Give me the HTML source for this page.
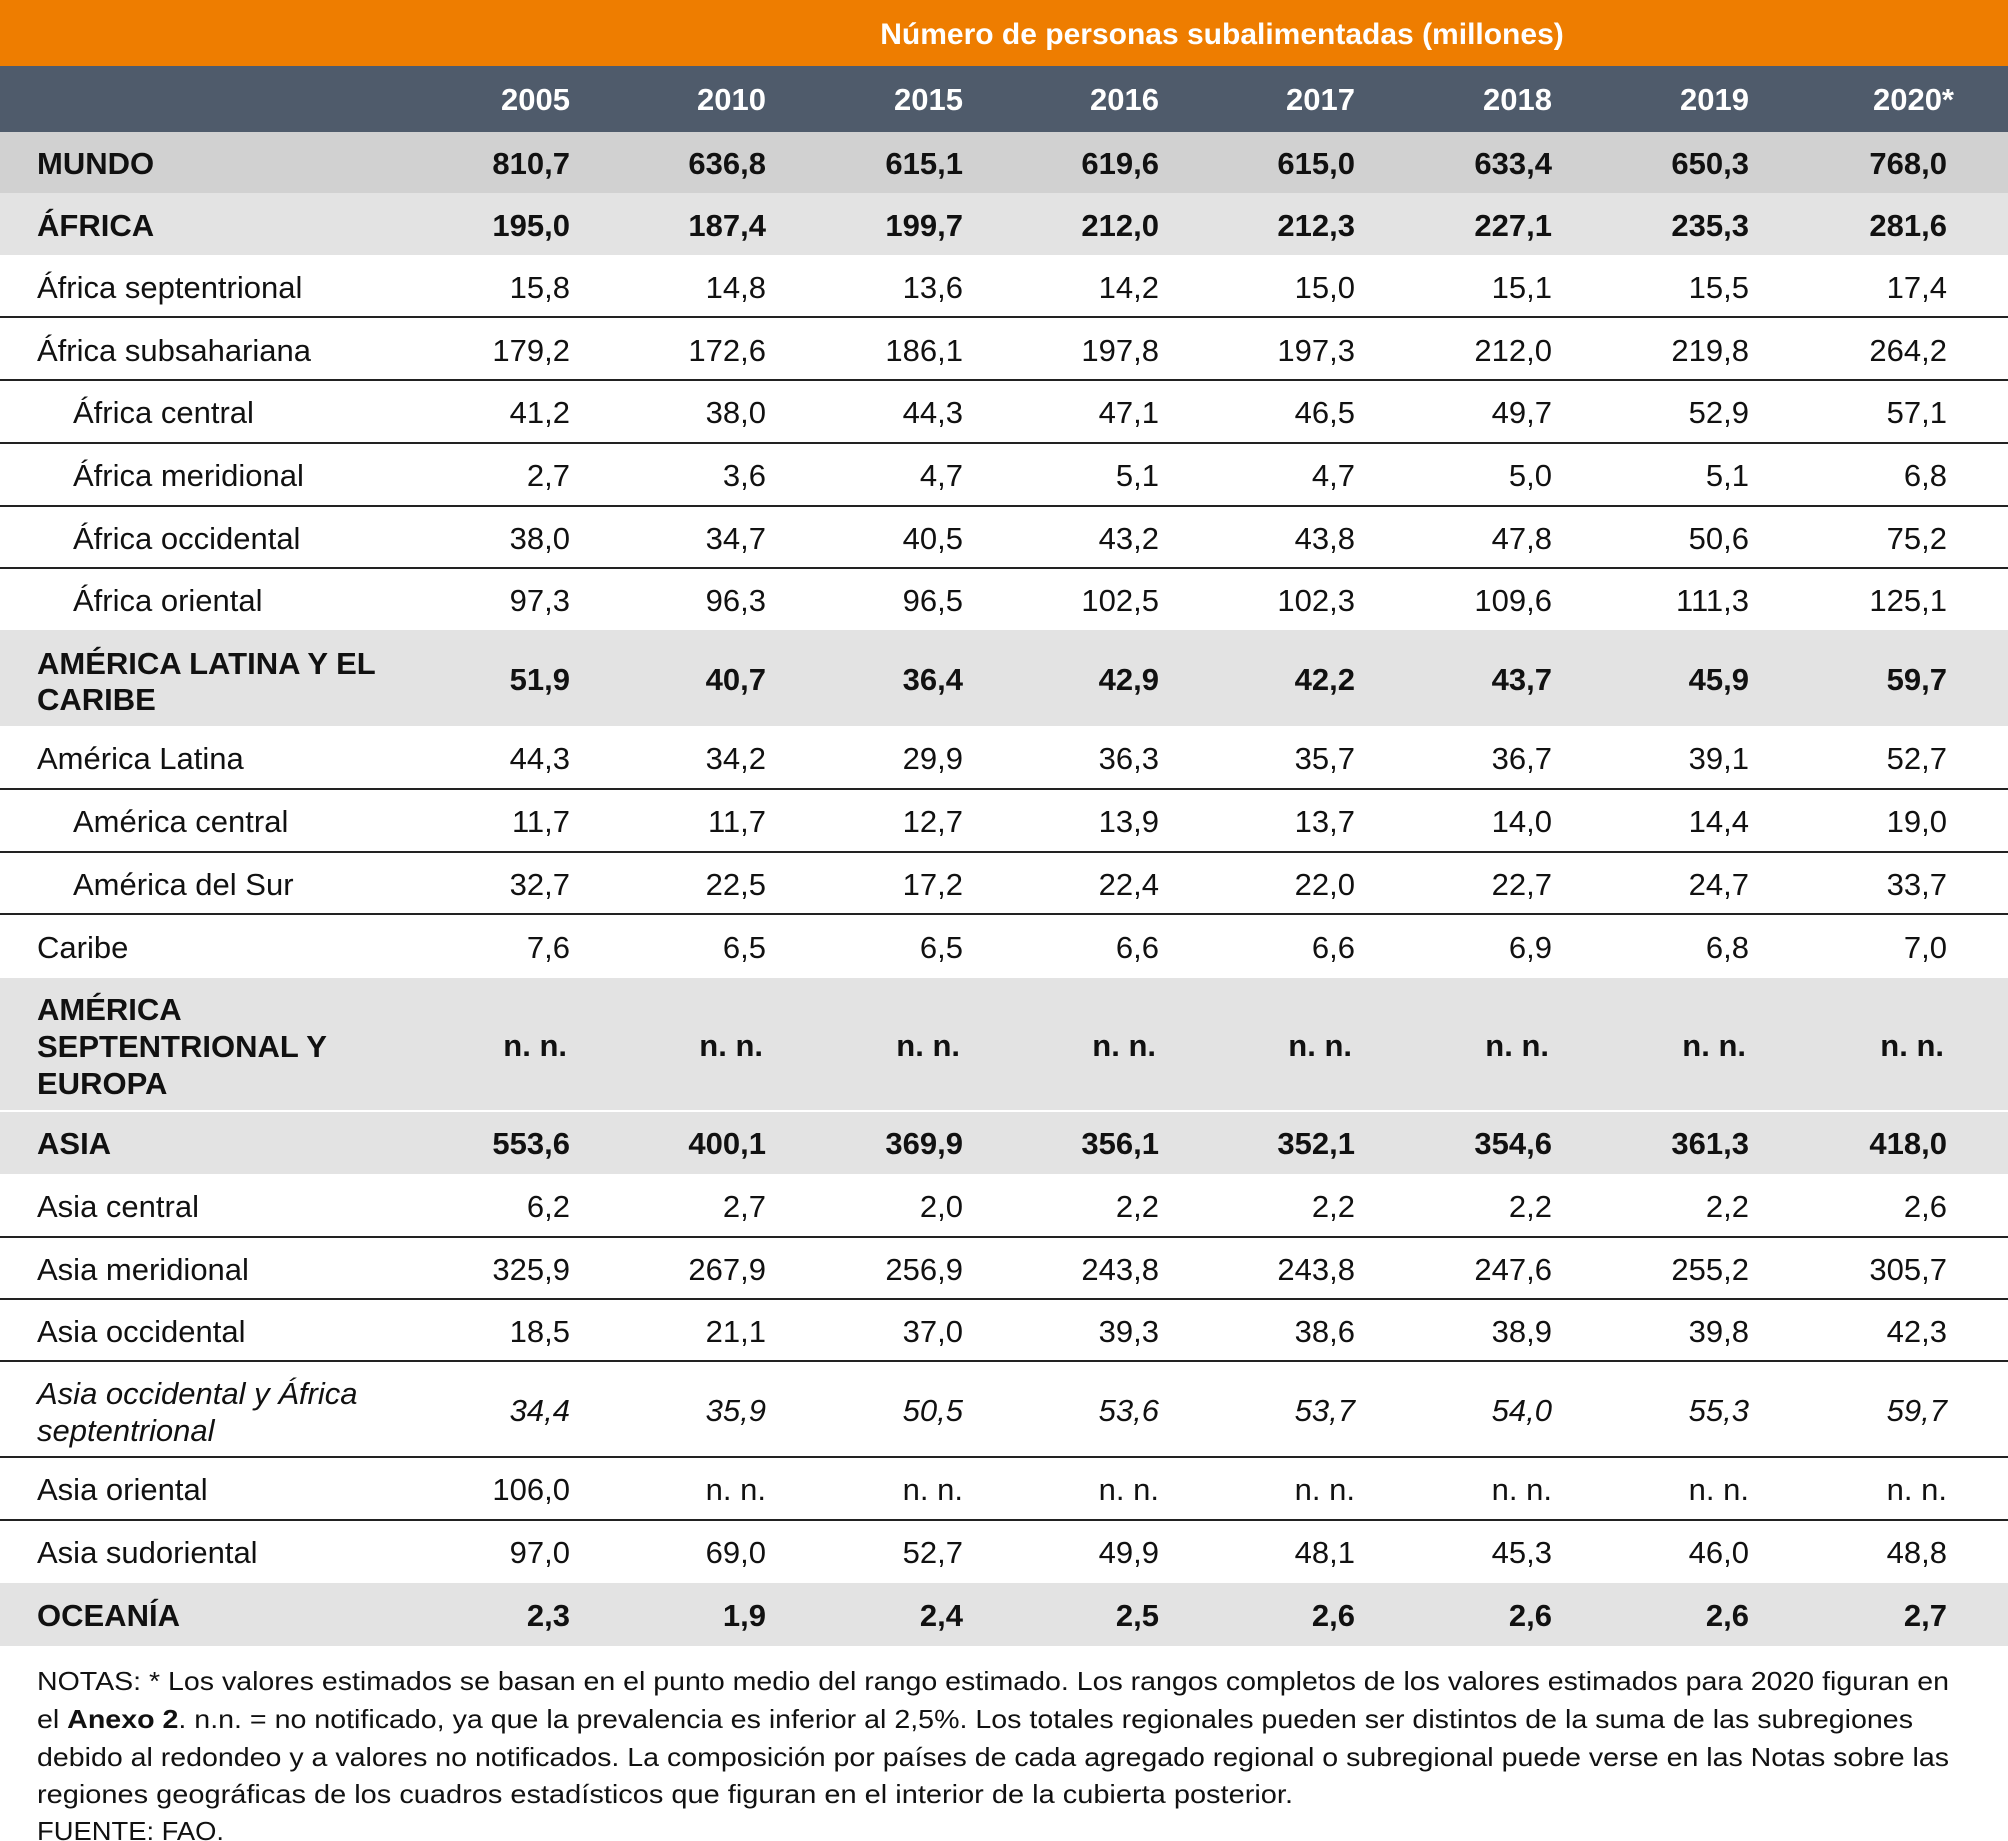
<!DOCTYPE html>
<html><head><meta charset="utf-8"><style>html,body{margin:0;padding:0;background:#fff}svg{display:block}</style></head><body>
<svg width="2008" height="1841" viewBox="0 0 2008 1841" xmlns="http://www.w3.org/2000/svg" font-family="'Liberation Sans Narrow','Liberation Sans',sans-serif" font-size="31">
<rect x="0" y="0" width="2008" height="66" fill="#EE7D00"/>
<rect x="0" y="66" width="2008" height="66" fill="#4F5B6B"/>
<rect x="0" y="132" width="2008" height="61" fill="#D1D1D1"/>
<rect x="0" y="193" width="2008" height="62" fill="#E3E3E3"/>
<rect x="0" y="630" width="2008" height="96" fill="#E3E3E3"/>
<rect x="0" y="978" width="2008" height="132" fill="#E3E3E3"/>
<rect x="0" y="1112" width="2008" height="62" fill="#E3E3E3"/>
<rect x="0" y="1583" width="2008" height="63" fill="#E3E3E3"/>
<g fill="#222">
<rect x="0" y="316" width="2008" height="2"/><rect x="0" y="379" width="2008" height="2"/><rect x="0" y="442" width="2008" height="2"/><rect x="0" y="505" width="2008" height="2"/><rect x="0" y="567" width="2008" height="2"/>
<rect x="0" y="788" width="2008" height="2"/><rect x="0" y="851" width="2008" height="2"/><rect x="0" y="913" width="2008" height="2"/>
<rect x="0" y="1236" width="2008" height="2"/><rect x="0" y="1298" width="2008" height="2"/><rect x="0" y="1360" width="2008" height="2"/><rect x="0" y="1456" width="2008" height="2"/><rect x="0" y="1519" width="2008" height="2"/>
</g>
<text x="1222" y="44" fill="#fff" font-weight="bold" text-anchor="middle" font-size="30">Número de personas subalimentadas (millones)</text>
<g fill="#fff" font-weight="bold" text-anchor="end">
<text x="570" y="110">2005</text><text x="766" y="110">2010</text><text x="963" y="110">2015</text><text x="1159" y="110">2016</text><text x="1355" y="110">2017</text><text x="1552" y="110">2018</text><text x="1749" y="110">2019</text><text x="1954" y="110">2020*</text>
</g>
<g fill="#111">
<g font-weight="bold">
<text x="37" y="174">MUNDO</text><text x="37" y="236">ÁFRICA</text>
<text x="37" y="674">AMÉRICA LATINA Y EL</text><text x="37" y="710">CARIBE</text>
<text x="37" y="1020">AMÉRICA</text><text x="37" y="1057">SEPTENTRIONAL Y</text><text x="37" y="1094">EUROPA</text>
<text x="37" y="1154">ASIA</text><text x="37" y="1626">OCEANÍA</text>
</g>
<text x="37" y="298">África septentrional</text>
<text x="37" y="361">África subsahariana</text>
<text x="73" y="423">África central</text>
<text x="73" y="486">África meridional</text>
<text x="73" y="549">África occidental</text>
<text x="73" y="611">África oriental</text>
<text x="37" y="769">América Latina</text>
<text x="73" y="832">América central</text>
<text x="73" y="895">América del Sur</text>
<text x="37" y="958">Caribe</text>
<text x="37" y="1217">Asia central</text>
<text x="37" y="1280">Asia meridional</text>
<text x="37" y="1342">Asia occidental</text>
<text x="37" y="1404" font-style="italic">Asia occidental y África</text>
<text x="37" y="1441" font-style="italic">septentrional</text>
<text x="37" y="1500">Asia oriental</text>
<text x="37" y="1563">Asia sudoriental</text>
</g>
<g fill="#111" text-anchor="end">
<g font-weight="bold">
<text y="174"><tspan x="570">810,7</tspan><tspan x="766">636,8</tspan><tspan x="963">615,1</tspan><tspan x="1159">619,6</tspan><tspan x="1355">615,0</tspan><tspan x="1552">633,4</tspan><tspan x="1749">650,3</tspan><tspan x="1947">768,0</tspan></text>
<text y="236"><tspan x="570">195,0</tspan><tspan x="766">187,4</tspan><tspan x="963">199,7</tspan><tspan x="1159">212,0</tspan><tspan x="1355">212,3</tspan><tspan x="1552">227,1</tspan><tspan x="1749">235,3</tspan><tspan x="1947">281,6</tspan></text>
<text y="690"><tspan x="570">51,9</tspan><tspan x="766">40,7</tspan><tspan x="963">36,4</tspan><tspan x="1159">42,9</tspan><tspan x="1355">42,2</tspan><tspan x="1552">43,7</tspan><tspan x="1749">45,9</tspan><tspan x="1947">59,7</tspan></text>
<text y="1056"><tspan x="567">n. n.</tspan><tspan x="763">n. n.</tspan><tspan x="960">n. n.</tspan><tspan x="1156">n. n.</tspan><tspan x="1352">n. n.</tspan><tspan x="1549">n. n.</tspan><tspan x="1746">n. n.</tspan><tspan x="1944">n. n.</tspan></text>
<text y="1154"><tspan x="570">553,6</tspan><tspan x="766">400,1</tspan><tspan x="963">369,9</tspan><tspan x="1159">356,1</tspan><tspan x="1355">352,1</tspan><tspan x="1552">354,6</tspan><tspan x="1749">361,3</tspan><tspan x="1947">418,0</tspan></text>
<text y="1626"><tspan x="570">2,3</tspan><tspan x="766">1,9</tspan><tspan x="963">2,4</tspan><tspan x="1159">2,5</tspan><tspan x="1355">2,6</tspan><tspan x="1552">2,6</tspan><tspan x="1749">2,6</tspan><tspan x="1947">2,7</tspan></text>
</g>
<text y="298"><tspan x="570">15,8</tspan><tspan x="766">14,8</tspan><tspan x="963">13,6</tspan><tspan x="1159">14,2</tspan><tspan x="1355">15,0</tspan><tspan x="1552">15,1</tspan><tspan x="1749">15,5</tspan><tspan x="1947">17,4</tspan></text>
<text y="361"><tspan x="570">179,2</tspan><tspan x="766">172,6</tspan><tspan x="963">186,1</tspan><tspan x="1159">197,8</tspan><tspan x="1355">197,3</tspan><tspan x="1552">212,0</tspan><tspan x="1749">219,8</tspan><tspan x="1947">264,2</tspan></text>
<text y="423"><tspan x="570">41,2</tspan><tspan x="766">38,0</tspan><tspan x="963">44,3</tspan><tspan x="1159">47,1</tspan><tspan x="1355">46,5</tspan><tspan x="1552">49,7</tspan><tspan x="1749">52,9</tspan><tspan x="1947">57,1</tspan></text>
<text y="486"><tspan x="570">2,7</tspan><tspan x="766">3,6</tspan><tspan x="963">4,7</tspan><tspan x="1159">5,1</tspan><tspan x="1355">4,7</tspan><tspan x="1552">5,0</tspan><tspan x="1749">5,1</tspan><tspan x="1947">6,8</tspan></text>
<text y="549"><tspan x="570">38,0</tspan><tspan x="766">34,7</tspan><tspan x="963">40,5</tspan><tspan x="1159">43,2</tspan><tspan x="1355">43,8</tspan><tspan x="1552">47,8</tspan><tspan x="1749">50,6</tspan><tspan x="1947">75,2</tspan></text>
<text y="611"><tspan x="570">97,3</tspan><tspan x="766">96,3</tspan><tspan x="963">96,5</tspan><tspan x="1159">102,5</tspan><tspan x="1355">102,3</tspan><tspan x="1552">109,6</tspan><tspan x="1749">111,3</tspan><tspan x="1947">125,1</tspan></text>
<text y="769"><tspan x="570">44,3</tspan><tspan x="766">34,2</tspan><tspan x="963">29,9</tspan><tspan x="1159">36,3</tspan><tspan x="1355">35,7</tspan><tspan x="1552">36,7</tspan><tspan x="1749">39,1</tspan><tspan x="1947">52,7</tspan></text>
<text y="832"><tspan x="570">11,7</tspan><tspan x="766">11,7</tspan><tspan x="963">12,7</tspan><tspan x="1159">13,9</tspan><tspan x="1355">13,7</tspan><tspan x="1552">14,0</tspan><tspan x="1749">14,4</tspan><tspan x="1947">19,0</tspan></text>
<text y="895"><tspan x="570">32,7</tspan><tspan x="766">22,5</tspan><tspan x="963">17,2</tspan><tspan x="1159">22,4</tspan><tspan x="1355">22,0</tspan><tspan x="1552">22,7</tspan><tspan x="1749">24,7</tspan><tspan x="1947">33,7</tspan></text>
<text y="958"><tspan x="570">7,6</tspan><tspan x="766">6,5</tspan><tspan x="963">6,5</tspan><tspan x="1159">6,6</tspan><tspan x="1355">6,6</tspan><tspan x="1552">6,9</tspan><tspan x="1749">6,8</tspan><tspan x="1947">7,0</tspan></text>
<text y="1217"><tspan x="570">6,2</tspan><tspan x="766">2,7</tspan><tspan x="963">2,0</tspan><tspan x="1159">2,2</tspan><tspan x="1355">2,2</tspan><tspan x="1552">2,2</tspan><tspan x="1749">2,2</tspan><tspan x="1947">2,6</tspan></text>
<text y="1280"><tspan x="570">325,9</tspan><tspan x="766">267,9</tspan><tspan x="963">256,9</tspan><tspan x="1159">243,8</tspan><tspan x="1355">243,8</tspan><tspan x="1552">247,6</tspan><tspan x="1749">255,2</tspan><tspan x="1947">305,7</tspan></text>
<text y="1342"><tspan x="570">18,5</tspan><tspan x="766">21,1</tspan><tspan x="963">37,0</tspan><tspan x="1159">39,3</tspan><tspan x="1355">38,6</tspan><tspan x="1552">38,9</tspan><tspan x="1749">39,8</tspan><tspan x="1947">42,3</tspan></text>
<text y="1421" font-style="italic"><tspan x="570">34,4</tspan><tspan x="766">35,9</tspan><tspan x="963">50,5</tspan><tspan x="1159">53,6</tspan><tspan x="1355">53,7</tspan><tspan x="1552">54,0</tspan><tspan x="1749">55,3</tspan><tspan x="1947">59,7</tspan></text>
<text y="1500"><tspan x="570">106,0</tspan><tspan x="766">n. n.</tspan><tspan x="963">n. n.</tspan><tspan x="1159">n. n.</tspan><tspan x="1355">n. n.</tspan><tspan x="1552">n. n.</tspan><tspan x="1749">n. n.</tspan><tspan x="1947">n. n.</tspan></text>
<text y="1563"><tspan x="570">97,0</tspan><tspan x="766">69,0</tspan><tspan x="963">52,7</tspan><tspan x="1159">49,9</tspan><tspan x="1355">48,1</tspan><tspan x="1552">45,3</tspan><tspan x="1749">46,0</tspan><tspan x="1947">48,8</tspan></text>
</g>
<g fill="#111" font-size="26">
<text x="37" y="1690" textLength="1912" lengthAdjust="spacingAndGlyphs">NOTAS: * Los valores estimados se basan en el punto medio del rango estimado. Los rangos completos de los valores estimados para 2020 figuran en</text>
<text x="37" y="1728" textLength="1876" lengthAdjust="spacingAndGlyphs">el <tspan font-weight="bold">Anexo 2</tspan>. n.n. = no notificado, ya que la prevalencia es inferior al 2,5%. Los totales regionales pueden ser distintos de la suma de las subregiones</text>
<text x="37" y="1766" textLength="1912" lengthAdjust="spacingAndGlyphs">debido al redondeo y a valores no notificados. La composición por países de cada agregado regional o subregional puede verse en las Notas sobre las</text>
<text x="37" y="1803" textLength="1256" lengthAdjust="spacingAndGlyphs">regiones geográficas de los cuadros estadísticos que figuran en el interior de la cubierta posterior.</text>
<text x="37" y="1840" textLength="187" lengthAdjust="spacingAndGlyphs">FUENTE: FAO.</text>
</g>
</svg>
</body></html>
